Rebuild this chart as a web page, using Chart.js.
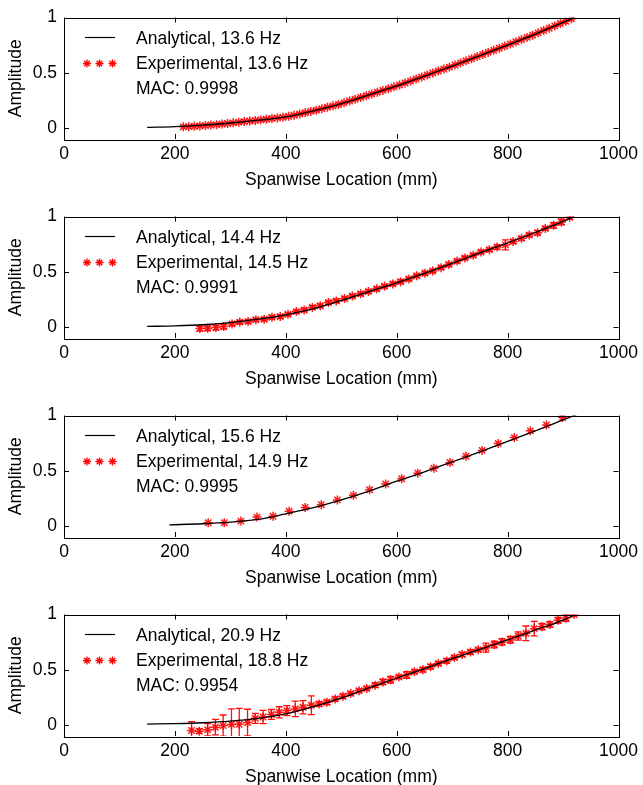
<!DOCTYPE html>
<html>
<head>
<meta charset="utf-8">
<script src="https://cdn.jsdelivr.net/npm/chart.js@4.4.1/dist/chart.umd.min.js"></script>
<style>
  body { margin: 0; background: #fff; }
  .panel { position: absolute; left: 0; width: 643px; height: 199px; }
</style>
</head>
<body>
<div class="panel" style="top:0px"><canvas id="c1" width="643" height="199"></canvas></div>
<div class="panel" style="top:199px"><canvas id="c2" width="643" height="199"></canvas></div>
<div class="panel" style="top:398px"><canvas id="c3" width="643" height="199"></canvas></div>
<div class="panel" style="top:597px"><canvas id="c4" width="643" height="199"></canvas></div>
<script>
// legend texts
const anaLabels = ['Analytical, 13.6 Hz', 'Analytical, 14.4 Hz', 'Analytical, 15.6 Hz', 'Analytical, 20.9 Hz'];
const expLabels = ['Experimental, 13.6 Hz', 'Experimental, 14.5 Hz', 'Experimental, 14.9 Hz', 'Experimental, 18.8 Hz'];
const macLabels = ['MAC: 0.9998', 'MAC: 0.9991', 'MAC: 0.9995', 'MAC: 0.9954'];
const yTicks = [0, 0.5, 1];

// analytical mode shapes
const anaX = [150, 200, 250, 300, 350, 400, 450, 500, 550, 600, 650, 700, 750, 800, 850, 900, 920];
const ana1Y = [0.005, 0.012, 0.025, 0.045, 0.07, 0.10, 0.155, 0.22, 0.30, 0.38, 0.47, 0.56, 0.655, 0.75, 0.85, 0.955, 1.0];
const ana2Y = [0.005, 0.01, 0.02, 0.04, 0.07, 0.11, 0.165, 0.24, 0.32, 0.40, 0.485, 0.575, 0.67, 0.76, 0.855, 0.955, 1.0];
const ana3X = [190, 250, 300, 350, 400, 450, 500, 550, 600, 650, 700, 750, 800, 850, 900, 925];
const ana3Y = [0.01, 0.02, 0.035, 0.06, 0.11, 0.165, 0.235, 0.315, 0.405, 0.49, 0.58, 0.67, 0.765, 0.86, 0.96, 1.01];
const ana4Y = [0.008, 0.012, 0.02, 0.035, 0.06, 0.10, 0.165, 0.245, 0.335, 0.425, 0.51, 0.6, 0.685, 0.77, 0.86, 0.95, 0.995];

// experimental, panel 1
const exp1X = [215, 225, 235, 245, 255, 265, 275, 285, 295, 305, 315, 325, 335, 345, 355, 365, 375, 385, 395, 405,
  415, 425, 435, 445, 455, 465, 475, 485, 495, 505, 515, 525, 535, 545, 555, 565, 575, 585, 595, 605,
  615, 625, 635, 645, 655, 665, 675, 685, 695, 705, 715, 725, 735, 745, 755, 765, 775, 785, 795, 805,
  815, 825, 835, 845, 855, 865, 875, 885, 895, 905, 915];
const exp1Y = [0.010, 0.012, 0.015, 0.018, 0.022, 0.026, 0.030, 0.036, 0.041, 0.046,
  0.052, 0.058, 0.063, 0.068, 0.073, 0.079, 0.085, 0.091, 0.097, 0.105,
  0.115, 0.126, 0.138, 0.150, 0.161, 0.174, 0.187, 0.200, 0.213, 0.228,
  0.244, 0.260, 0.276, 0.292, 0.308, 0.324, 0.340, 0.356, 0.372, 0.389,
  0.407, 0.425, 0.443, 0.461, 0.479, 0.497, 0.515, 0.533, 0.551, 0.570,
  0.589, 0.608, 0.627, 0.646, 0.665, 0.684, 0.703, 0.722, 0.741, 0.760,
  0.780, 0.800, 0.820, 0.840, 0.861, 0.882, 0.903, 0.924, 0.945, 0.966, 0.989];

// experimental, panel 2
const exp2X = [245, 259, 274, 288, 303, 317, 332, 346, 361, 375, 390, 404, 419, 433, 448, 462, 477, 491, 506, 520,
  535, 549, 564, 578, 593, 607, 622, 636, 651, 665, 680, 694, 709, 723, 738, 752, 767, 781, 796, 810,
  825, 839, 854, 868, 883, 897, 912];
const exp2Y = [-0.015, -0.012, -0.006, 0.003, 0.027, 0.044, 0.05, 0.065, 0.07, 0.088,
  0.094, 0.115, 0.139, 0.153, 0.177, 0.192, 0.221, 0.236, 0.257, 0.28,
  0.30, 0.321, 0.345, 0.369, 0.39, 0.41, 0.434, 0.463, 0.487, 0.507,
  0.537, 0.566, 0.596, 0.625, 0.649, 0.678, 0.699, 0.723, 0.743, 0.773,
  0.802, 0.832, 0.853, 0.891, 0.92, 0.95, 0.994];
const exp2Err = [0.02, 0.02, 0.02, 0.02, 0.015, 0.015, 0.015, 0.015, 0.015, 0.015,
  0.015, 0.015, 0.015, 0.015, 0.015, 0.015, 0.015, 0.015, 0.015, 0.015,
  0.015, 0.015, 0.015, 0.015, 0.015, 0.015, 0.015, 0.015, 0.015, 0.015,
  0.015, 0.015, 0.015, 0.015, 0.015, 0.015, 0.015, 0.02, 0.046, 0.015,
  0.015, 0.015, 0.02, 0.015, 0.025, 0.025, 0.015];

// experimental, panel 3
const exp3X = [260, 289, 319, 348, 377, 406, 435, 464, 493, 522, 551, 580, 609, 638, 667, 696, 725, 754, 783, 812, 841, 870, 899];
const exp3Y = [0.029, 0.029, 0.044, 0.08, 0.088, 0.133, 0.168, 0.192, 0.236, 0.277, 0.327, 0.38, 0.427, 0.478, 0.522,
  0.575, 0.631, 0.684, 0.746, 0.80, 0.861, 0.914, 0.982];

// experimental, panel 4
const exp4X = [230, 244, 259, 273, 287, 302, 316, 331, 345, 359, 374, 388, 402, 417, 431, 446, 460, 474, 489, 503,
  517, 532, 546, 561, 575, 589, 604, 618, 632, 647, 661, 675, 690, 704, 718, 733, 747, 761, 776, 790,
  805, 819, 833, 848, 862, 876, 891, 905, 920];
const exp4Y = [-0.05, -0.056, -0.043, -0.02, -0.006, 0.005, 0.006, 0.022, 0.06, 0.072,
  0.095, 0.115, 0.13, 0.145, 0.16, 0.178, 0.19, 0.205, 0.235, 0.26,
  0.285, 0.31, 0.33, 0.36, 0.39, 0.41, 0.434, 0.452, 0.482, 0.5,
  0.528, 0.556, 0.58, 0.61, 0.638, 0.66, 0.681, 0.7, 0.728, 0.752,
  0.772, 0.805, 0.83, 0.872, 0.89, 0.91, 0.948, 0.969, 1.0];
const exp4Err = [0.08, 0.02, 0.056, 0.07, 0.096, 0.14, 0.145, 0.12, 0.045, 0.06,
  0.045, 0.05, 0.045, 0.07, 0.06, 0.085, 0.02, 0.02, 0.02, 0.02,
  0.015, 0.015, 0.015, 0.02, 0.025, 0.03, 0.015, 0.03, 0.015, 0.02,
  0.02, 0.015, 0.02, 0.015, 0.02, 0.02, 0.015, 0.04, 0.03, 0.03,
  0.03, 0.037, 0.066, 0.066, 0.03, 0.025, 0.025, 0.03, 0.01];

const FONT = '"Liberation Sans", Arial, Helvetica, sans-serif';
const FS = 17.5;
Chart.defaults.font.family = FONT;
Chart.defaults.font.size = FS;
Chart.defaults.color = '#000';

const zip = (xs, ys) => xs.map((x, i) => ({ x: x, y: ys[i] }));

// error bars, under the markers
const errorBars = {
  id: 'errorBars',
  beforeDatasetsDraw(chart) {
    const { ctx, chartArea: a, scales: { x, y } } = chart;
    ctx.save();
    ctx.beginPath();
    ctx.rect(a.left, a.top, a.right - a.left, a.bottom - a.top);
    ctx.clip();
    ctx.strokeStyle = 'rgba(255,0,0,0.95)';
    ctx.lineWidth = 1.3;
    chart.data.datasets.forEach(ds => {
      if (!ds.errors) return;
      ds.data.forEach((p, i) => {
        const e = ds.errors[i];
        const px = x.getPixelForValue(p.x);
        const y1 = y.getPixelForValue(p.y - e);
        const y2 = y.getPixelForValue(p.y + e);
        ctx.beginPath();
        ctx.moveTo(px, y1); ctx.lineTo(px, y2);
        ctx.moveTo(px - 3.5, y1); ctx.lineTo(px + 3.5, y1);
        ctx.moveTo(px - 3.5, y2); ctx.lineTo(px + 3.5, y2);
        ctx.stroke();
      });
    });
    ctx.restore();
  }
};

// matlab-like box with inward ticks
const boxTicks = {
  id: 'boxTicks',
  afterDraw(chart) {
    const { ctx, chartArea: a, scales: { x, y } } = chart;
    ctx.save();
    ctx.strokeStyle = '#000';
    ctx.lineWidth = 1;
    ctx.beginPath();
    x.ticks.forEach(t => {
      const px = Math.round(x.getPixelForValue(t.value)) + 0.5;
      ctx.moveTo(px, a.bottom); ctx.lineTo(px, a.bottom - 5);
      ctx.moveTo(px, a.top); ctx.lineTo(px, a.top + 5);
    });
    y.ticks.forEach(t => {
      const py = Math.round(y.getPixelForValue(t.value)) + 0.5;
      ctx.moveTo(a.left, py); ctx.lineTo(a.left + 5, py);
      ctx.moveTo(a.right, py); ctx.lineTo(a.right - 5, py);
    });
    ctx.stroke();
    ctx.strokeRect(Math.round(a.left) + 0.5, Math.round(a.top) + 0.5,
      Math.round(a.right - a.left), Math.round(a.bottom - a.top));
    ctx.restore();
  }
};

// legend inside the plot, upper left
const inLegend = {
  id: 'inLegend',
  afterDraw(chart, args, opts) {
    const { ctx, chartArea: a } = chart;
    const ds = chart.data.datasets;
    ctx.save();
    ctx.font = FS + 'px ' + FONT;
    ctx.fillStyle = '#000';
    ctx.textBaseline = 'alphabetic';
    // analytical
    ctx.strokeStyle = '#000';
    ctx.lineWidth = 1.2;
    ctx.beginPath();
    ctx.moveTo(a.left + 21, a.top + 20);
    ctx.lineTo(a.left + 51, a.top + 20);
    ctx.stroke();
    ctx.fillText(ds[0].label, a.left + 72, a.top + 26.5);
    // experimental
    ctx.strokeStyle = 'red';
    ctx.lineWidth = 1.3;
    [23, 35.5, 48.5].forEach(dx => {
      Chart.helpers.drawPoint(ctx, { pointStyle: 'star', radius: 4, borderWidth: 1.3, rotation: 0 }, a.left + dx, a.top + 46);
    });
    ctx.fillText(ds[1].label, a.left + 72, a.top + 51.5);
    ctx.fillText(opts.mac, a.left + 72, a.top + 76.5);
    ctx.restore();
  }
};

function makePanel(id, k, ax, ay, ex, ey, err) {
  new Chart(document.getElementById(id), {
    type: 'scatter',
    data: {
      datasets: [{
        label: anaLabels[k],
        data: zip(ax, ay),
        showLine: true,
        borderColor: '#000',
        borderWidth: 1.3,
        pointRadius: 0,
        cubicInterpolationMode: 'monotone'
      }, {
        label: expLabels[k],
        data: zip(ex, ey),
        showLine: false,
        pointStyle: 'star',
        pointRadius: 4.5,
        borderColor: 'rgba(255,0,0,0.9)',
        backgroundColor: 'rgba(255,0,0,0.9)',
        pointBorderWidth: 1.5,
        errors: err
      }]
    },
    options: {
      responsive: false,
      animation: false,
      devicePixelRatio: 1,
      layout: { padding: { top: 15, right: 22, left: 0, bottom: 0 } },
      plugins: {
        legend: { display: false },
        tooltip: { enabled: false },
        inLegend: { mac: macLabels[k] }
      },
      scales: {
        x: {
          type: 'linear',
          min: 0,
          max: 1000,
          grid: { display: false, drawTicks: false },
          border: { display: false },
          ticks: { stepSize: 200, padding: 5, callback: v => String(v) },
          title: { display: true, text: 'Spanwise Location (mm)', padding: { top: 0, bottom: 8 } },
          afterFit: s => { s.height = 60; }
        },
        y: {
          min: -0.1,
          max: 1,
          grid: { display: false, drawTicks: false },
          border: { display: false },
          ticks: { padding: 7, callback: v => String(v) },
          afterBuildTicks: s => { s.ticks = yTicks.map(v => ({ value: v })); },
          title: { display: true, text: 'Amplitude', padding: { top: 6, bottom: 0 } },
          afterFit: s => { s.width = 64; }
        }
      }
    },
    plugins: [errorBars, boxTicks, inLegend]
  });
}

makePanel('c1', 0, anaX, ana1Y, exp1X, exp1Y, null);
makePanel('c2', 1, anaX, ana2Y, exp2X, exp2Y, exp2Err);
makePanel('c3', 2, ana3X, ana3Y, exp3X, exp3Y, null);
makePanel('c4', 3, anaX, ana4Y, exp4X, exp4Y, exp4Err);
</script>
</body>
</html>
